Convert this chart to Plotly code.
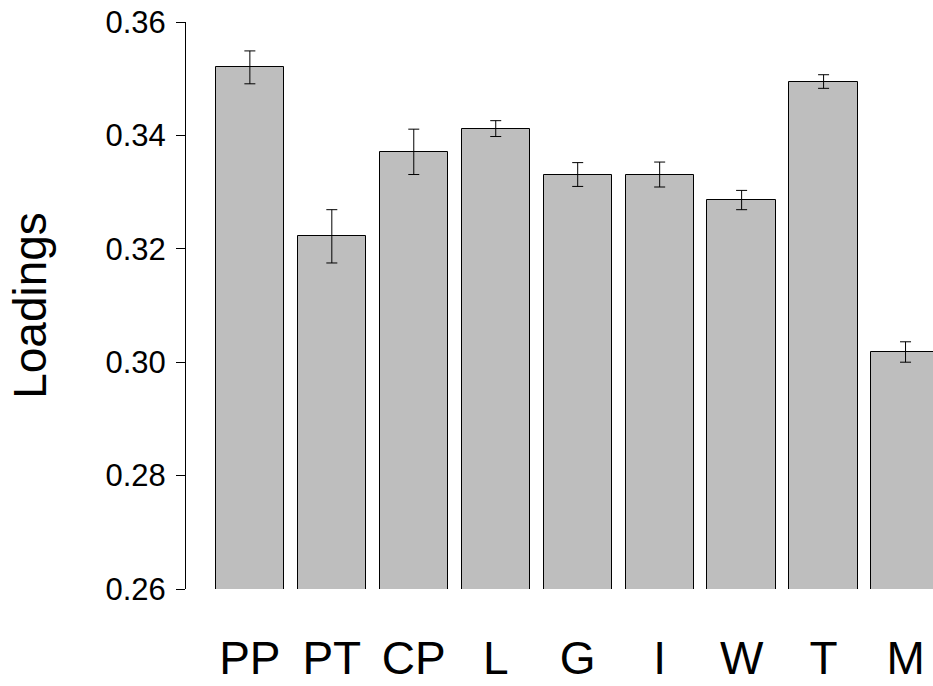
import plotly.graph_objects as go

categories = ["PP", "PT", "CP", "L", "G", "I", "W", "T", "M"]
loadings = [0.3520, 0.3222, 0.3371, 0.3412, 0.3331, 0.3331, 0.3286, 0.3495, 0.3018]
errors = [0.0029, 0.0047, 0.0040, 0.0014, 0.0021, 0.0022, 0.0017, 0.0012, 0.0018]
y_ticks = [0.26, 0.28, 0.30, 0.32, 0.34, 0.36]
y_tick_labels = ["0.26", "0.28", "0.30", "0.32", "0.34", "0.36"]

# R barplot style positions: width 1, space 0.2
positions = [0.7 + 1.2 * i for i in range(len(categories))]

FONT = "Liberation Sans, Arial, sans-serif"

fig = go.Figure()
fig.add_trace(go.Bar(
    x=positions,
    y=loadings,
    width=1.0,
    marker=dict(color="#BEBEBE", line=dict(color="black", width=1)),
    error_y=dict(type="data", array=errors, visible=True,
                 color="black", thickness=1, width=5.5),
    showlegend=False,
    hoverinfo="skip",
))

fig.update_layout(
    width=933, height=686,
    margin=dict(l=186, r=0, t=22, b=97),
    plot_bgcolor="white", paper_bgcolor="white",
    font=dict(family=FONT, color="black"),
    bargap=0,
)
fig.update_xaxes(
    range=[-0.235, -0.235 + 747 / 68.3],
    tickmode="array", tickvals=positions, ticktext=categories,
    tickfont=dict(size=46, family=FONT, color="black"),
    showline=False, showgrid=False, zeroline=False, ticks="",
    ticklabelstandoff=38,
    automargin=False,
)
fig.update_yaxes(
    range=[0.26, 0.36],
    tickmode="array", tickvals=y_ticks, ticktext=y_tick_labels,
    tickfont=dict(size=31, family=FONT, color="black"),
    showline=True, linecolor="black", linewidth=1,
    ticks="outside", ticklen=9, tickcolor="black", tickwidth=1,
    showgrid=False, zeroline=False,
    ticklabelstandoff=4,
    automargin=False,
    title=dict(text="Loadings", font=dict(size=46, family=FONT, color="black"), standoff=44),
)

fig.write_html(
    "out.html",
    config={"displayModeBar": False},
    post_script="document.body.style.margin='0';document.body.style.overflow='hidden';",
)
